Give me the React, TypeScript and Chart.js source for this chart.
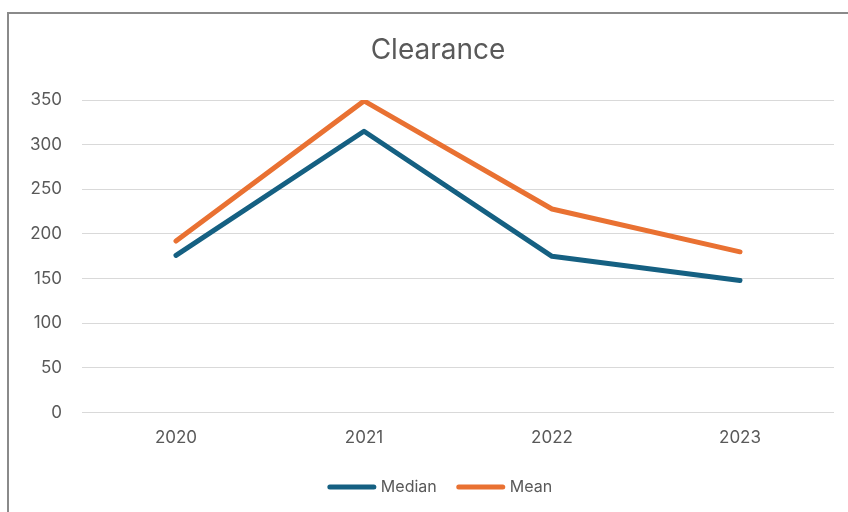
import React, { useEffect, useRef } from "react";
import { Chart, registerables } from "chart.js";

Chart.register(...registerables);

const categories = ["2020", "2021", "2022", "2023"];
const medianValues = [176, 315, 175, 148];
const meanValues = [192, 349, 228, 180];
const yTicks = [0, 50, 100, 150, 200, 250, 300, 350];
const titleText = "Clearance";

const FONT = "Inter, 'Noto Sans', sans-serif";
const TEXT = "#595959";

const titleLegendPlugin = {
  id: "titleLegend",
  afterDraw(chart: any) {
    const ctx = chart.ctx as CanvasRenderingContext2D;
    ctx.save();
    ctx.fillStyle = TEXT;
    ctx.font = `28px ${FONT}`;
    ctx.textAlign = "center";
    ctx.textBaseline = "middle";
    ctx.fillText(titleText, 438, 51);

    ctx.font = `16px ${FONT}`;
    ctx.textAlign = "left";
    const lineLen = 48;
    const gap = 5;
    const spacing = 20;
    const items = chart.data.datasets.map((d: any) => ({
      text: d.label as string,
      color: d.borderColor as string,
      w: lineLen + gap + ctx.measureText(d.label).width,
    }));
    const total = items.reduce((a: number, it: any) => a + it.w, 0) + spacing * (items.length - 1);
    let x = 440 - total / 2;
    const y = 487;
    for (const it of items) {
      ctx.strokeStyle = it.color;
      ctx.lineWidth = 5;
      ctx.lineCap = "round";
      ctx.beginPath();
      ctx.moveTo(x + 2, y);
      ctx.lineTo(x + lineLen - 2, y);
      ctx.stroke();
      ctx.fillText(it.text, x + lineLen + gap, y);
      x += it.w + spacing;
    }
    ctx.restore();
  },
};

export default function App() {
  const ref = useRef<HTMLCanvasElement | null>(null);
  useEffect(() => {
    if (!ref.current) return;
    const chart = new Chart(ref.current, {
      type: "line",
      data: {
        labels: categories,
        datasets: [
          {
            label: "Median",
            data: medianValues,
            borderColor: "#156082",
            backgroundColor: "#156082",
            borderWidth: 5,
            pointRadius: 0,
            borderCapStyle: "round",
            borderJoinStyle: "round",
            tension: 0,
          },
          {
            label: "Mean",
            data: meanValues,
            borderColor: "#E97132",
            backgroundColor: "#E97132",
            borderWidth: 5,
            pointRadius: 0,
            borderCapStyle: "round",
            borderJoinStyle: "round",
            tension: 0,
          },
        ],
      },
      plugins: [titleLegendPlugin],
      options: {
        animation: false,
        responsive: false,
        maintainAspectRatio: false,
        layout: { padding: { left: 0, right: 14, top: 100, bottom: 49 } },
        plugins: {
          title: { display: false },
          legend: { display: false },
          tooltip: { enabled: false },
        },
        scales: {
          x: {
            offset: true,
            grid: { display: false, drawTicks: false },
            border: { display: false },
            ticks: { color: TEXT, font: { family: FONT, size: 17 }, padding: 15 },
          },
          y: {
            min: 0,
            max: 350,
            afterFit: (s: any) => {
              s.width = 82;
            },
            afterBuildTicks: (s: any) => {
              s.ticks = yTicks.map((v) => ({ value: v }));
            },
            grid: { color: "#d9d9d9", lineWidth: 1, drawTicks: false },
            border: { display: false },
            ticks: { color: TEXT, font: { family: FONT, size: 17 }, padding: 20 },
          },
        },
      },
    });
    return () => chart.destroy();
  }, []);
  return (
    <div style={{ position: "fixed", left: 0, top: 0, width: 848, height: 512, background: "#fff", overflow: "hidden" }}>
      <div
        style={{
          position: "absolute",
          left: 7,
          top: 12,
          width: 900,
          height: 600,
          border: "2px solid #8a8a8a",
        }}
      />
      <canvas ref={ref} width={848} height={512} style={{ position: "absolute", left: 0, top: 0 }} />
    </div>
  );
}
